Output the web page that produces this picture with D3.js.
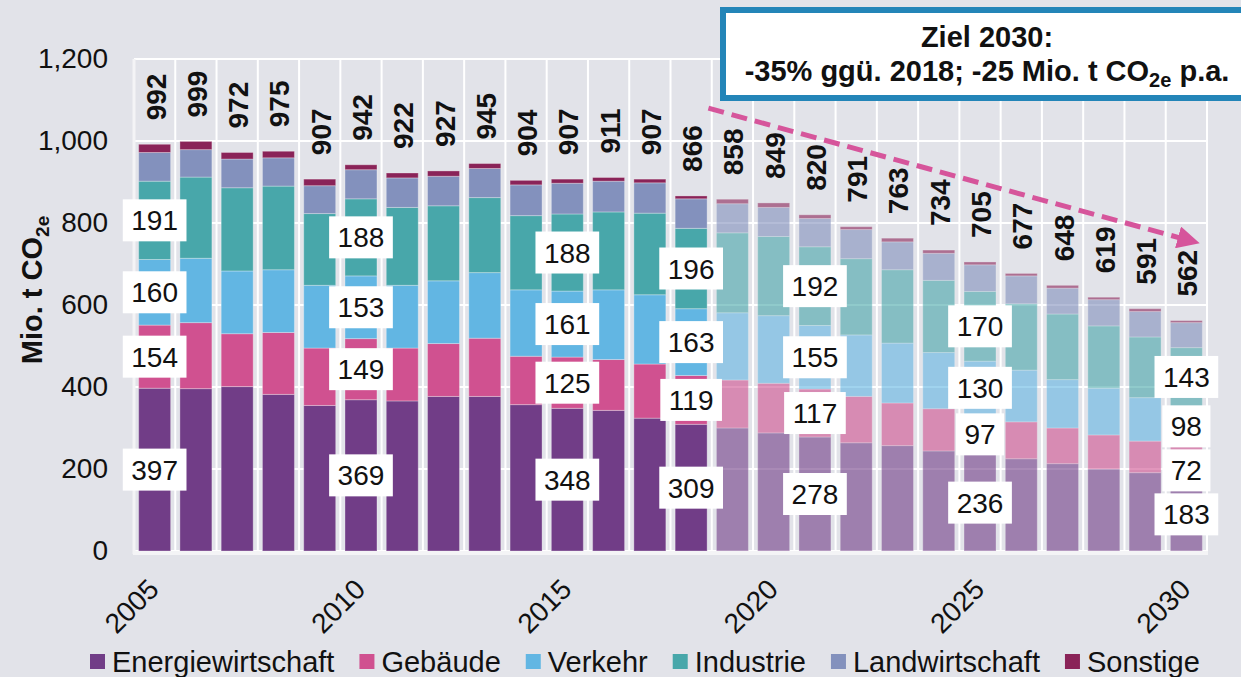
<!DOCTYPE html>
<html>
<head>
<meta charset="utf-8">
<script src="https://cdn.jsdelivr.net/npm/d3@7"></script>
<style>
body { margin: 0; background: #e2e3e9; }
svg { display: block; font-family: "Liberation Sans", Arial, sans-serif; }
</style>
</head>
<body>
<svg id="viz" width="1241" height="677"></svg>
<script>
var years = [2005,2006,2007,2008,2009,2010,2011,2012,2013,2014,2015,2016,2017,2018,2019,2020,2021,2022,2023,2024,2025,2026,2027,2028,2029,2030];
var totals = [992,999,972,975,907,942,922,927,945,904,907,911,907,866,858,849,820,791,763,734,705,677,648,619,591,562];
var energie = [397,396,401,382,355,369,366,377,377,357,348,343,324,309,300,288,278,264,257,244,236,225,213,200,191,183];
var gebaeude = [154,161,129,151,140,149,129,129,142,118,125,124,132,119,117,121,117,113,104,103,97,90,87,83,77,72];
var verkehr = [160,157,153,153,153,153,153,153,160,162,161,170,169,163,164,165,155,150,146,137,130,126,118,114,106,98];
var industrie = [191,198,203,204,175,188,190,183,183,181,188,190,199,196,195,193,192,186,179,176,170,162,160,152,148,143];
var landwirtschaft = [70,67,70,69,68,71,72,72,71,75,75,75,74,72,71,71,69,71,68,66,65,68,63,64,62,61];
var sonstige = [20,20,16,16,16,12,12,13,12,11,10,9,9,7,11,11,9,7,9,8,7,6,7,6,7,5];

var sectors = ["Energiewirtschaft","Gebäude","Verkehr","Industrie","Landwirtschaft","Sonstige"];
var colors = ["#713d87","#d05190","#62b6e3","#48a7aa","#8391bd","#8a2358"];
var yTicks = [0,200,400,600,800,1000,1200];
var xTicks = [2005,2010,2015,2020,2025,2030];
var labelYears = [2005,2010,2015,2018,2021,2025,2030];
var firstProjection = 2019;

var series = [energie, gebaeude, verkehr, industrie, landwirtschaft, sonstige];

var svg = d3.select("#viz");

var x = d3.scaleBand().domain(years).range([134, 1207]).paddingInner(0.225).paddingOuter(0.1125);
var y = d3.scaleLinear().domain([0, 1200]).range([551, 59]);

// grid
var grid = svg.append("g");
grid.selectAll(".hgrid").data(yTicks).enter().append("line")
    .attr("x1", 134).attr("x2", 1207)
    .attr("y1", function(d){ return y(d); })
    .attr("y2", function(d){ return y(d); })
    .attr("stroke", "#ffffff").attr("stroke-width", 2);
grid.selectAll(".vgrid").data(d3.range(years.length + 1)).enter().append("line")
    .attr("x1", function(i){ return 134 + x.step() * i; })
    .attr("x2", function(i){ return 134 + x.step() * i; })
    .attr("y1", y(1200)).attr("y2", y(0))
    .attr("stroke", "#ffffff").attr("stroke-width", 2);

// stacked bars
var rows = years.map(function(yr, i){
    var r = { year: yr };
    sectors.forEach(function(s, k){ r[s] = series[k][i]; });
    return r;
});
var stack = d3.stack().keys(sectors)(rows);

svg.append("g").selectAll("g").data(stack).enter().append("g")
    .attr("fill", function(d, k){ return colors[k]; })
    .selectAll("rect").data(function(d){ return d; }).enter().append("rect")
    .attr("x", function(d){ return x(d.data.year); })
    .attr("width", x.bandwidth())
    .attr("y", function(d){ return y(d[1]); })
    .attr("height", function(d){ return y(d[0]) - y(d[1]); })
    .attr("opacity", function(d){ return d.data.year >= firstProjection ? 0.6 : 1; })
    .attr("stroke", "rgba(255,255,255,0.3)").attr("stroke-width", 1);

// axis lines
svg.append("line").attr("x1", 134).attr("x2", 134).attr("y1", y(1200)).attr("y2", y(0) + 3)
    .attr("stroke", "#f4f4f6").attr("stroke-width", 3);
svg.append("line").attr("x1", 133).attr("x2", 1208).attr("y1", y(0) + 2).attr("y2", y(0) + 2)
    .attr("stroke", "#f4f4f6").attr("stroke-width", 4);

// y axis
var yAxis = svg.append("g").attr("transform", "translate(110,0)")
    .call(d3.axisLeft(y).tickValues(yTicks).tickSize(0).tickPadding(2).tickFormat(d3.format(",")));
yAxis.select(".domain").remove();
yAxis.selectAll("text").attr("font-size", 28).attr("fill", "#111").attr("font-family", "Liberation Sans, Arial, sans-serif");

var yTitle = svg.append("text")
    .attr("transform", "translate(42,290) rotate(-90)")
    .attr("text-anchor", "middle")
    .attr("font-size", 29).attr("font-weight", "bold").attr("fill", "#111");
yTitle.append("tspan").text("Mio. t CO");
yTitle.append("tspan").text("2e").attr("font-size", 19).attr("dy", 7);

// x axis
svg.selectAll(".xlab").data(xTicks).enter().append("text")
    .attr("class", "xlab")
    .attr("transform", function(d){
        return "translate(" + (x(d) + x.bandwidth() / 2 + 6) + ",591) rotate(-45)";
    })
    .attr("text-anchor", "end")
    .attr("font-size", 28).attr("fill", "#111")
    .text(function(d){ return d; });

// totals above bars
svg.selectAll(".tot").data(rows).enter().append("text")
    .attr("class", "tot")
    .attr("transform", function(d, i){
        return "translate(" + (x(d.year) + x.bandwidth() / 2 + 11) + "," + (y(totals[i]) - 24) + ") rotate(-90)";
    })
    .attr("font-size", 28).attr("font-weight", "bold").attr("fill", "#111")
    .text(function(d, i){ return totals[i]; });

// segment value labels
var boxH = 42;
var boxes = [];
labelYears.forEach(function(yr){
    var i = years.indexOf(yr);
    var list = [];
    var base = 0;
    for(var k = 0; k < 4; k++){
        var v = series[k][i];
        list.push({ year: yr, val: v, cy: y(base + v / 2) });
        base += v;
    }
    // push down overlapping boxes, top to bottom
    for(var k = list.length - 2; k >= 0; k--){
        var above = list[k + 1];
        if(list[k].cy - boxH / 2 < above.cy + boxH / 2 + 2){
            list[k].cy = above.cy + boxH + 2;
        }
    }
    boxes = boxes.concat(list);
});

var lab = svg.selectAll(".lab").data(boxes).enter().append("g")
    .attr("class", "lab")
    .attr("transform", function(d){
        return "translate(" + (x(d.year) + x.bandwidth() / 2) + "," + d.cy + ")";
    });
lab.append("text")
    .attr("text-anchor", "middle").attr("dy", "0.36em")
    .attr("font-size", 28).attr("fill", "#111")
    .text(function(d){ return d.val; });
lab.each(function(){
    var g = d3.select(this);
    var w = g.select("text").node().getComputedTextLength() + 17;
    g.insert("rect", "text")
        .attr("x", -w / 2).attr("y", -boxH / 2)
        .attr("width", w).attr("height", boxH)
        .attr("fill", "#ffffff");
});

// target arrow
svg.append("defs").append("marker")
    .attr("id", "head").attr("viewBox", "0 0 10 10")
    .attr("refX", 2).attr("refY", 5)
    .attr("markerWidth", 4.5).attr("markerHeight", 4.5)
    .attr("orient", "auto")
    .append("path").attr("d", "M0,0 L10,5 L0,10 z").attr("fill", "#d6559b");
svg.append("line")
    .attr("x1", x(2019) - 8).attr("y1", y(1080))
    .attr("x2", x(2030) + x.bandwidth() - 20).attr("y2", y(762))
    .attr("stroke", "#d6559b").attr("stroke-width", 5)
    .attr("stroke-dasharray", "16,8")
    .attr("marker-end", "url(#head)");

// annotation box
svg.append("rect")
    .attr("x", 723).attr("y", 10).attr("width", 600).attr("height", 88)
    .attr("fill", "#ffffff").attr("stroke", "#2385b8").attr("stroke-width", 6);
svg.append("text")
    .attr("x", 987).attr("y", 47).attr("text-anchor", "middle")
    .attr("font-size", 29).attr("font-weight", "bold").attr("fill", "#111")
    .text("Ziel 2030:");
var note = svg.append("text")
    .attr("x", 987).attr("y", 81).attr("text-anchor", "middle")
    .attr("font-size", 29).attr("font-weight", "bold").attr("fill", "#111");
note.append("tspan").text("-35% ggü. 2018; -25 Mio. t CO");
note.append("tspan").text("2e").attr("font-size", 20).attr("dy", 6);
note.append("tspan").text(" p.a.").attr("dy", -6);

// legend
var legend = svg.append("g");
var lx = 90;
sectors.forEach(function(s, k){
    legend.append("rect").attr("x", lx).attr("y", 654).attr("width", 15).attr("height", 15)
        .attr("fill", colors[k]);
    var t = legend.append("text").attr("x", lx + 22).attr("y", 672)
        .attr("font-size", 29).attr("fill", "#111").text(s);
    lx += 22 + t.node().getComputedTextLength() + 25;
});
</script>
</body>
</html>
